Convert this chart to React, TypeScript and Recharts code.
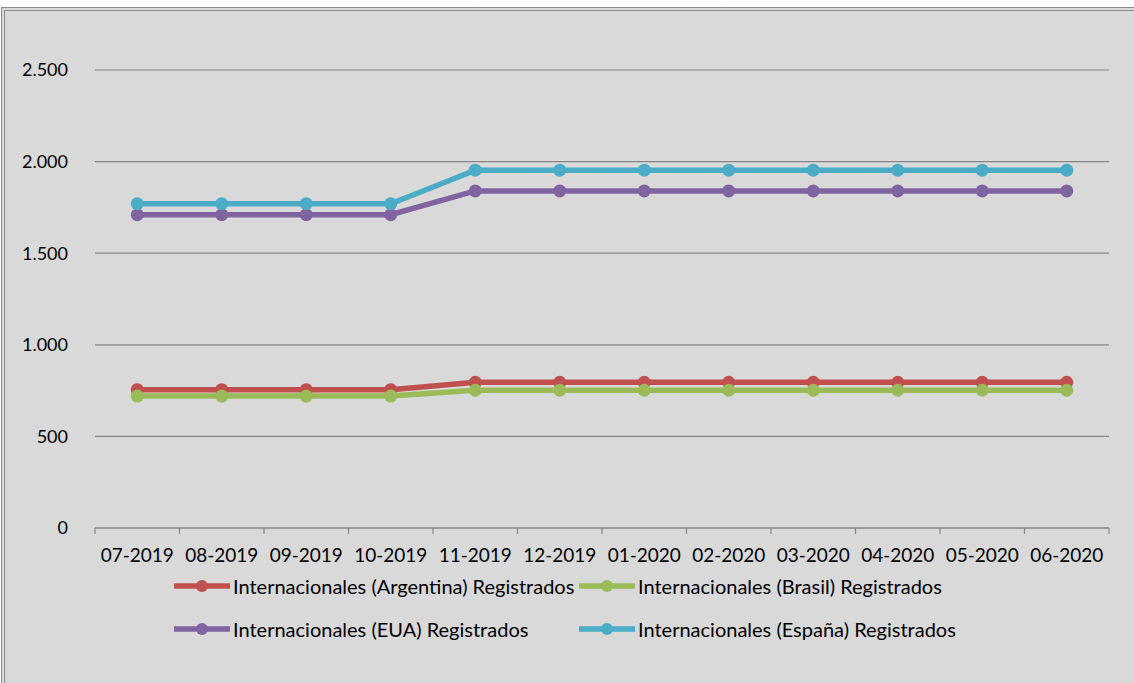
import { CartesianGrid, Legend, Line, LineChart, XAxis, YAxis } from "recharts";

const months = [
  "07-2019", "08-2019", "09-2019", "10-2019", "11-2019", "12-2019",
  "01-2020", "02-2020", "03-2020", "04-2020", "05-2020", "06-2020",
];
const argentina = [755, 755, 755, 755, 795, 795, 795, 795, 795, 795, 795, 795];
const brasil = [720, 720, 720, 720, 752, 752, 752, 752, 752, 752, 752, 752];
const eua = [1710, 1710, 1710, 1710, 1840, 1840, 1840, 1840, 1840, 1840, 1840, 1840];
const espana = [1770, 1770, 1770, 1770, 1953, 1953, 1953, 1953, 1953, 1953, 1953, 1953];
const yTicks = [0, 500, 1000, 1500, 2000, 2500];

const series = [
  { key: "argentina", name: "Internacionales (Argentina) Registrados", color: "#C0504D" },
  { key: "brasil", name: "Internacionales (Brasil) Registrados", color: "#9BBB59" },
  { key: "eua", name: "Internacionales (EUA) Registrados", color: "#8064A2" },
  { key: "espana", name: "Internacionales (España) Registrados", color: "#4BACC6" },
];

const chartData = months.map((month, i) => ({
  month,
  argentina: argentina[i],
  brasil: brasil[i],
  eua: eua[i],
  espana: espana[i],
}));

const FONT = "Lato, 'Open Sans', sans-serif";
const GRID = "#868686";
const TICK_SIZE = 6;
const TICK_MARGIN = 15;

function formatThousands(v: number): string {
  return String(v).replace(/\B(?=(\d{3})+(?!\d))/g, ".");
}

// category label plus Excel-style tick marks between the categories
function MonthTick(props: any) {
  const { x, y, payload, width, visibleTicksCount, index } = props;
  const band = width && visibleTicksCount ? width / visibleTicksCount : (payload.offset || 0) * 2;
  const axisY = y - TICK_SIZE - TICK_MARGIN;
  const isLast = index === visibleTicksCount - 1;
  return (
    <g>
      <line x1={x - band / 2} x2={x - band / 2} y1={axisY} y2={axisY + TICK_SIZE} stroke={GRID} strokeWidth={1.2} />
      {isLast && (
        <line x1={x + band / 2} x2={x + band / 2} y1={axisY} y2={axisY + TICK_SIZE} stroke={GRID} strokeWidth={1.2} />
      )}
      <text x={x} y={y} dy="0.71em" textAnchor="middle" fill="#000" fontSize={19} fontFamily={FONT}>
        {payload.value}
      </text>
    </g>
  );
}

function LegendRows({ payload }: any) {
  const items = (payload || []) as any[];
  return (
    <div
      style={{
        height: 125,
        boxSizing: "border-box",
        paddingLeft: 173,
        paddingTop: 17,
        display: "grid",
        gridTemplateColumns: "405px 440px",
        rowGap: 21,
        alignContent: "start",
        fontFamily: FONT,
        fontSize: 20,
        color: "#000",
      }}
    >
      {items.map((entry) => (
        <div key={entry.value} style={{ display: "flex", alignItems: "center", height: 22 }}>
          <svg width={58} height={14} style={{ flex: "none" }}>
            <line x1={1} x2={57} y1={7} y2={7} stroke={entry.color} strokeWidth={5.5} />
            <circle cx={29} cy={7} r={6} fill={entry.color} />
          </svg>
          <span style={{ marginLeft: 2, whiteSpace: "nowrap" }}>{entry.value}</span>
        </div>
      ))}
    </div>
  );
}

export default function App() {
  return (
    <div style={{ position: "absolute", left: 0, top: 0, width: 1134, height: 683, overflow: "hidden", background: "#fff" }}>
      <div
        style={{
          position: "absolute",
          left: 0,
          width: 1134,
          top: -29,
          textAlign: "center",
          paddingLeft: 60,
          boxSizing: "border-box",
          fontFamily: FONT,
          fontWeight: 700,
          fontSize: 27,
          color: "#000",
          lineHeight: "30px",
        }}
      >
        (número de personas)
      </div>
      <div
        style={{
          position: "absolute",
          left: 1,
          top: 7,
          width: 1160,
          height: 700,
          background: "#D9D9D9",
          border: "4px double #8C8C8C",
          boxSizing: "border-box",
        }}
      />
      <div style={{ position: "absolute", left: 0, top: 0 }}>
        <LineChart width={1134} height={683} data={chartData} margin={{ top: 70, right: 25, left: 0, bottom: 0 }}>
          <CartesianGrid vertical={false} stroke={GRID} strokeWidth={1.2} />
          <XAxis
            dataKey="month"
            scale="band"
            height={30}
            axisLine={{ stroke: GRID, strokeWidth: 1.2 }}
            tickLine={false}
            tickSize={TICK_SIZE}
            tickMargin={TICK_MARGIN}
            interval={0}
            tick={<MonthTick />}
          />
          <YAxis
            width={95}
            domain={[0, 2500]}
            ticks={yTicks}
            axisLine={false}
            tickLine={false}
            tickMargin={21}
            tickFormatter={formatThousands}
            tick={{ fill: "#000", fontSize: 18, fontFamily: FONT }}
          />
          <Legend verticalAlign="bottom" content={<LegendRows />} />
          {series.map((s) => (
            <Line
              key={s.key}
              type="linear"
              dataKey={s.key}
              name={s.name}
              stroke={s.color}
              strokeWidth={5.5}
              dot={{ r: 6.5, fill: s.color, stroke: s.color, strokeWidth: 0 }}
              activeDot={false}
              isAnimationActive={false}
            />
          ))}
        </LineChart>
      </div>
    </div>
  );
}
